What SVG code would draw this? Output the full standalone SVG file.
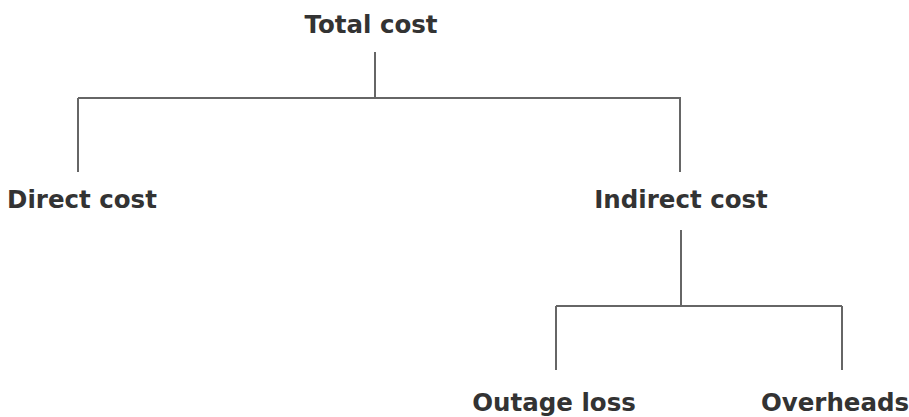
<svg xmlns="http://www.w3.org/2000/svg" width="909" height="417" viewBox="0 0 909 417">
<style>
text{font-family:"DejaVu Sans",Verdana,sans-serif;font-weight:bold;font-size:24.5px;fill:#333;text-anchor:middle}
.c{stroke:#666;stroke-width:2;fill:none}
</style>
<rect width="909" height="417" fill="#fff"/>
<g id="connectors">
<path class="c" d="M375,52V98M78,98H681M78,98V172M680,98V172"/>
<path class="c" d="M681,230V306M556,306H842M556,306V370M842,306V370"/>
</g>
<g id="total"><text x="371" y="33">Total cost</text></g>
<g id="direct"><text x="82" y="208">Direct cost</text></g>
<g id="indirect"><text x="681" y="208">Indirect cost</text></g>
<g id="outage"><text x="554" y="411">Outage loss</text></g>
<g id="overheads"><text x="835" y="411">Overheads</text></g>
</svg>
